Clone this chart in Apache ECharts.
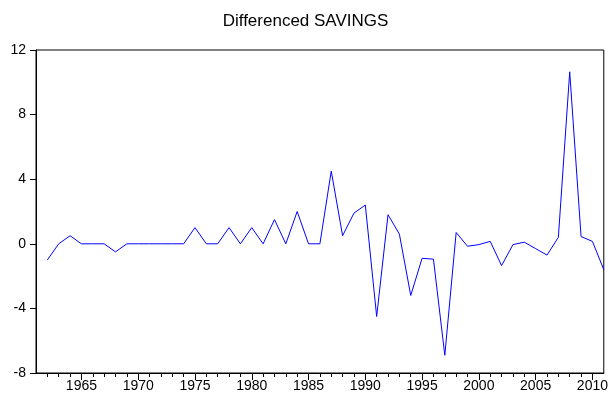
<!DOCTYPE html>
<html>
<head>
<meta charset="utf-8">
<script src="https://cdn.jsdelivr.net/npm/echarts@6/dist/echarts.min.js"></script>
<style>
  html, body { margin: 0; padding: 0; background: #fff; }
  #chart { width: 611px; height: 403px; }
</style>
</head>
<body>
<div id="chart"></div>
<script>
var years = [1962, 1963, 1964, 1965, 1966, 1967, 1968, 1969, 1970, 1971,
    1972, 1973, 1974, 1975, 1976, 1977, 1978, 1979, 1980, 1981,
    1982, 1983, 1984, 1985, 1986, 1987, 1988, 1989, 1990, 1991,
    1992, 1993, 1994, 1995, 1996, 1997, 1998, 1999, 2000, 2001,
    2002, 2003, 2004, 2005, 2006, 2007, 2008, 2009, 2010, 2011];
var dSavings = [-1, 0, 0.5, 0, 0, 0, -0.5, 0, 0, 0,
    0, 0, 0, 1, 0, 0, 1, 0, 1, 0,
    1.5, 0, 2, 0, 0, 4.5, 0.5, 1.9, 2.4, -4.5,
    1.8, 0.6, -3.2, -0.9, -0.95, -6.9, 0.7, -0.15, -0.05, 0.15,
    -1.35, -0.05, 0.1, -0.3, -0.7, 0.4, 10.65, 0.45, 0.15, -1.6];
var majorYears = [1965, 1970, 1975, 1980, 1985, 1990, 1995, 2000, 2005, 2010];
var minorYears = [1962, 1963, 1964, 1965, 1966, 1967, 1968, 1969, 1970, 1971,
    1972, 1973, 1974, 1975, 1976, 1977, 1978, 1979, 1980, 1981,
    1982, 1983, 1984, 1985, 1986, 1987, 1988, 1989, 1990, 1991,
    1992, 1993, 1994, 1995, 1996, 1997, 1998, 1999, 2000, 2001,
    2002, 2003, 2004, 2005, 2006, 2007, 2008, 2009, 2010];

var chart = echarts.init(document.getElementById('chart'));

var seriesData = [];
for (var i = 0; i < years.length; i++) {
    seriesData.push([years[i], dSavings[i]]);
}

var option = {
    animation: false,
    textStyle: { fontFamily: 'Liberation Sans, Arial, sans-serif' },
    title: {
        text: 'Differenced SAVINGS',
        left: 'center',
        top: 8,
        textStyle: { fontSize: 17, fontWeight: 'normal', color: '#000' }
    },
    grid: {
        left: 36,
        right: 6,
        top: 50,
        bottom: 30,
        show: true,
        borderColor: '#000',
        borderWidth: 1,
        backgroundColor: 'transparent'
    },
    xAxis: [{
        type: 'value',
        min: 1961,
        max: 2011,
        axisLine: { show: true, onZero: false, lineStyle: { color: '#000', width: 1 } },
        axisTick: {
            show: true,
            customValues: minorYears,
            length: 4,
            lineStyle: { color: '#000' }
        },
        axisLabel: {
            customValues: majorYears,
            margin: 6,
            fontSize: 14,
            color: '#000',
            formatter: function (v) { return String(v); }
        },
        splitLine: { show: false }
    }, {
        type: 'value',
        min: 1961,
        max: 2011,
        position: 'bottom',
        axisLine: { show: false, onZero: false },
        axisTick: {
            show: true,
            customValues: majorYears,
            length: 7,
            lineStyle: { color: '#000' }
        },
        axisLabel: { show: false },
        splitLine: { show: false }
    }],
    yAxis: {
        type: 'value',
        min: -8,
        max: 12,
        interval: 4,
        axisLine: { show: true, onZero: false, lineStyle: { color: '#000', width: 1 } },
        axisTick: { show: true, length: 6, lineStyle: { color: '#000', width: 1 } },
        axisLabel: { margin: 10, fontSize: 14, color: '#000' },
        splitLine: { show: false }
    },
    series: [{
        name: 'D(SAVINGS)',
        type: 'line',
        xAxisIndex: 0,
        data: seriesData,
        showSymbol: false,
        lineStyle: { color: '#0000ff', width: 1 }
    }]
};

chart.setOption(option);
</script>
</body>
</html>
